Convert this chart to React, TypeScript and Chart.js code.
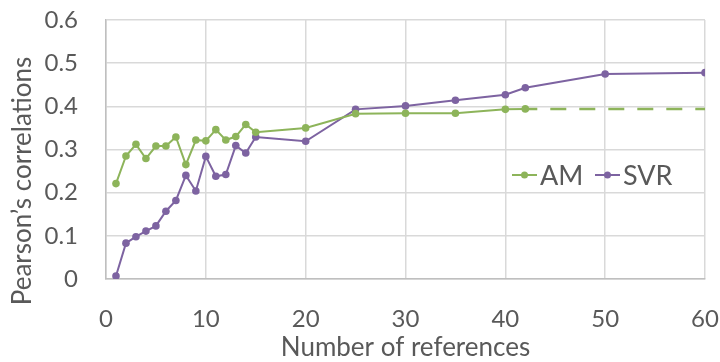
import React, { useEffect, useRef } from "react";
import { Chart, registerables } from "chart.js";

Chart.register(...registerables);

const amX = [1, 2, 3, 4, 5, 6, 7, 8, 9, 10, 11, 12, 13, 14, 15, 20, 25, 30, 35, 40, 42];
const amY = [0.221, 0.285, 0.312, 0.279, 0.308, 0.308, 0.329, 0.265, 0.322, 0.320, 0.346, 0.322, 0.330, 0.358, 0.340, 0.350, 0.383, 0.384, 0.384, 0.393, 0.394];
const svrX = [1, 2, 3, 4, 5, 6, 7, 8, 9, 10, 11, 12, 13, 14, 15, 20, 25, 30, 35, 40, 42, 50, 60];
const svrY = [0.007, 0.083, 0.098, 0.111, 0.123, 0.157, 0.182, 0.240, 0.204, 0.284, 0.238, 0.242, 0.309, 0.292, 0.329, 0.319, 0.393, 0.401, 0.414, 0.427, 0.443, 0.475, 0.478];
const amExtX = [42, 60];
const amExtY = [0.394, 0.394];
const seriesNames = ["AM", "SVR"];
const xTitle = "Number of references";
const yTitle = "Pearson\u2019s correlations";

const GREEN = "#8DB45A";
const PURPLE = "#7D63A1";
const TEXT = "#595959";
const GRID = "#d9d9d9";
const FONT = "Lato, 'Open Sans', sans-serif";

const zip = (xs: number[], ys: number[]) => xs.map((x, i) => ({ x, y: ys[i] }));

const overlayPlugin = {
  id: "overlay",
  afterDraw(chart: any) {
    const { ctx, chartArea } = chart;
    ctx.save();
    ctx.fillStyle = TEXT;
    ctx.font = `26px ${FONT}`;
    ctx.textAlign = "center";
    ctx.textBaseline = "alphabetic";
    ctx.fillText(xTitle, (chartArea.left + chartArea.right) / 2, 356);
    ctx.save();
    ctx.translate(31, 181);
    ctx.rotate(-Math.PI / 2);
    ctx.textAlign = "center";
    ctx.fillText(yTitle, 0, 0);
    ctx.restore();
    const ly = 175;
    const items = [
      { name: seriesNames[0], color: GREEN, x: 512 },
      { name: seriesNames[1], color: PURPLE, x: 595 },
    ];
    ctx.font = `27px ${FONT}`;
    ctx.textAlign = "left";
    ctx.textBaseline = "middle";
    for (const it of items) {
      ctx.strokeStyle = it.color;
      ctx.lineWidth = 2;
      ctx.beginPath();
      ctx.moveTo(it.x, ly);
      ctx.lineTo(it.x + 25, ly);
      ctx.stroke();
      ctx.fillStyle = it.color;
      ctx.beginPath();
      ctx.arc(it.x + 12.5, ly, 3.5, 0, Math.PI * 2);
      ctx.fill();
      ctx.fillStyle = TEXT;
      ctx.fillText(it.name, it.x + 28, ly + 1);
    }
    ctx.restore();
  },
};

export default function App() {
  const ref = useRef<HTMLCanvasElement | null>(null);
  useEffect(() => {
    if (!ref.current) return;
    const chart = new Chart(ref.current, {
      type: "line",
      data: {
        datasets: [
          {
            label: "AM extension",
            data: zip(amExtX, amExtY),
            borderColor: GREEN,
            borderWidth: 2.5,
            borderDash: [16, 13],
            borderDashOffset: 4,
            pointRadius: 0,
            fill: false,
          },
          {
            label: seriesNames[0],
            data: zip(amX, amY),
            borderColor: GREEN,
            backgroundColor: GREEN,
            borderWidth: 2,
            pointRadius: 3.8,
            pointBorderWidth: 0,
            pointBackgroundColor: GREEN,
            fill: false,
          },
          {
            label: seriesNames[1],
            data: zip(svrX, svrY),
            borderColor: PURPLE,
            backgroundColor: PURPLE,
            borderWidth: 2,
            pointRadius: 3.8,
            pointBorderWidth: 0,
            pointBackgroundColor: PURPLE,
            fill: false,
          },
        ],
      },
      options: {
        animation: false,
        responsive: false,
        maintainAspectRatio: false,
        layout: { padding: { left: 0, right: 15, top: 20, bottom: 0 } },
        plugins: { legend: { display: false }, tooltip: { enabled: false } },
        scales: {
          x: {
            type: "linear",
            min: 0,
            max: 60,
            afterFit: (s: any) => { s.height = 83; s.paddingLeft = 0; s.paddingRight = 0; },
            ticks: { stepSize: 10, color: TEXT, font: { size: 24, family: FONT }, padding: 26, maxRotation: 0 },
            grid: { color: GRID, lineWidth: 1.5, drawTicks: false },
            border: { color: "#bfbfbf", width: 1.5 },
          },
          y: {
            min: 0,
            max: 0.6,
            afterFit: (s: any) => { s.width = 106; s.paddingTop = 0; s.paddingBottom = 0; },
            ticks: { stepSize: 0.1, color: TEXT, font: { size: 24, family: FONT }, padding: 28, callback: (v: any) => String(Math.round(Number(v) * 10) / 10) },
            grid: { color: GRID, lineWidth: 1.5, drawTicks: false },
            border: { color: "#bfbfbf", width: 1.5 },
          },
        },
      },
      plugins: [overlayPlugin],
    });
    return () => chart.destroy();
  }, []);
  return (
    <div style={{ position: "fixed", left: 0, top: 0, width: 720, height: 362, background: "#fff" }}>
      <canvas ref={ref} width={720} height={362} style={{ width: 720, height: 362 }} />
    </div>
  );
}
